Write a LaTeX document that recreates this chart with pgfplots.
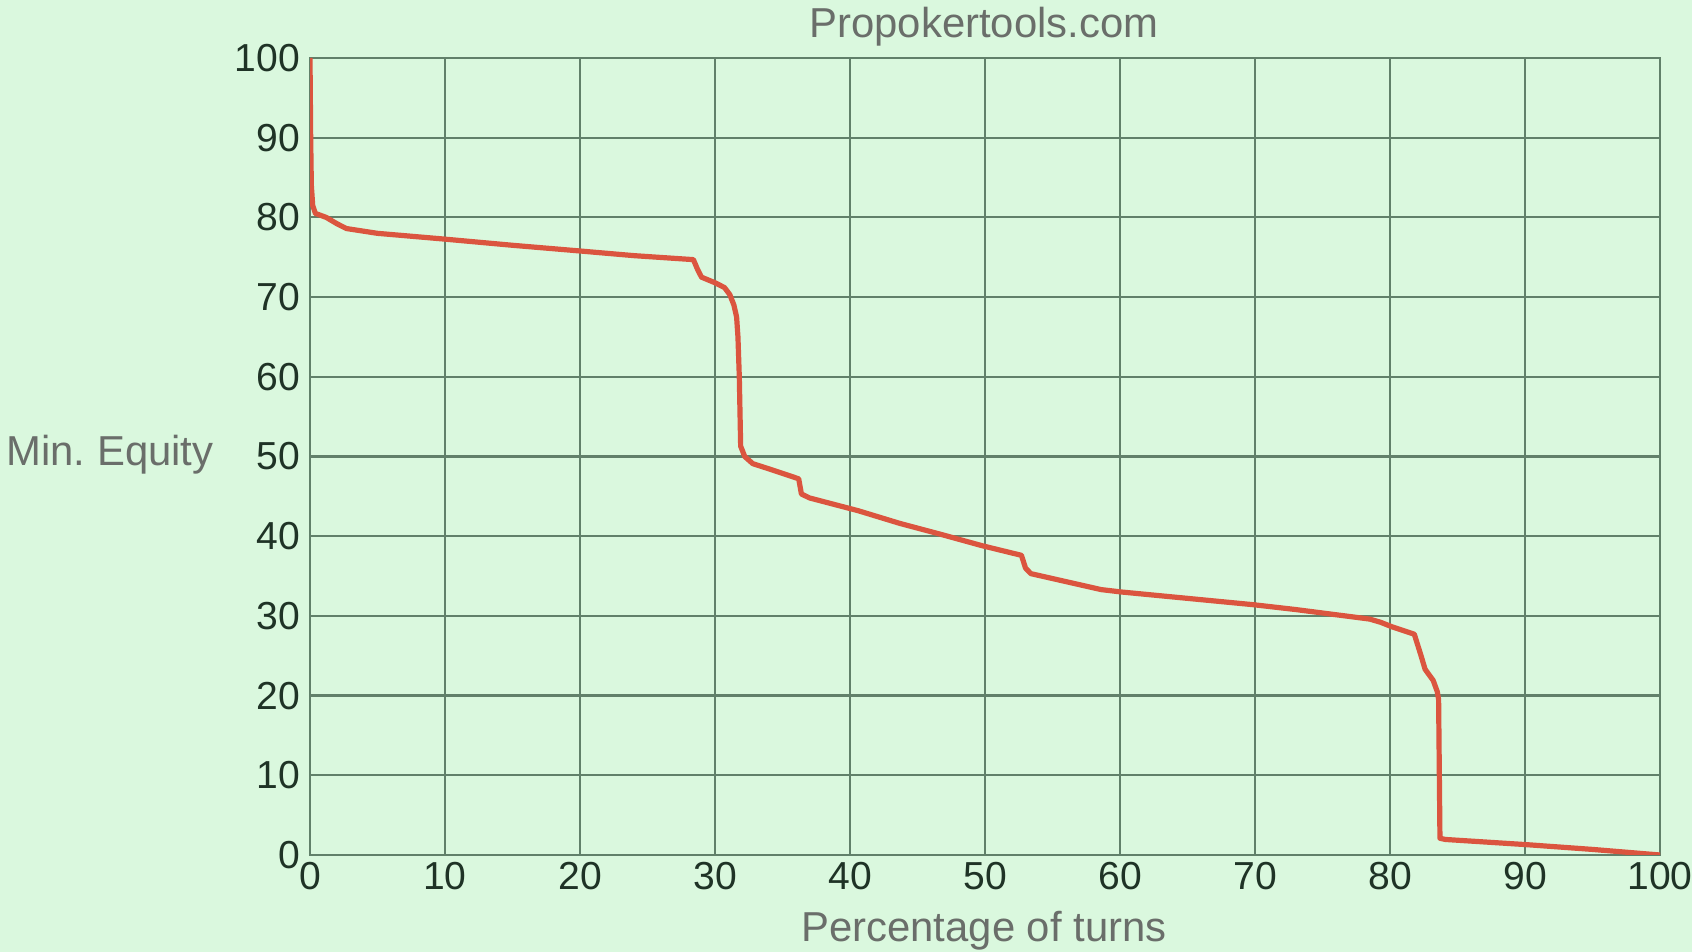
\documentclass[border=0pt]{standalone}
\usepackage{fontspec}
\setmainfont{Liberation Sans}
\usepackage{pgfplots}
\pgfplotsset{compat=1.18}

\definecolor{bg}{HTML}{DAF8DE}
\definecolor{gridc}{HTML}{61806A}
\definecolor{curve}{HTML}{DB553F}
\definecolor{ticktxt}{HTML}{1F3326}
\definecolor{labtxt}{HTML}{6A6E6A}

\begin{document}
\begin{tikzpicture}
\fill[bg] (0,0) rectangle (423bp,238bp);
\clip (0,0) rectangle (423bp,238bp);
\begin{axis}[
    at={(77.5bp,24.25bp)}, anchor=origin,
    scale only axis,
    width=337.5bp, height=199.25bp,
    xmin=0, xmax=100, ymin=0, ymax=100,
    xtick={0,10,...,100}, ytick={0,10,...,100},
    grid=major,
    major grid style={gridc, line width=0.55bp},
    axis line style={gridc, line width=0.55bp},
    major tick length=0pt,
    /pgf/number format/assume math mode=true,
    ticklabel style={font=\fontsize{9.8}{11}\selectfont, text=ticktxt},
    xticklabel style={anchor=base, yshift=-8.5bp},
    yticklabel style={anchor=east, xshift=1bp},
    axis background/.style={fill=bg},
]
\addplot[curve, line width=1.3bp, line join=round] coordinates {
    (0,100) (0.05,90) (0.1,84) (0.2,81.5) (0.4,80.5)
    (1.2,80.0) (2.0,79.2) (2.7,78.6) (5,78.0) (9.8,77.3) (15,76.5)
    (19.9,75.8) (24,75.2) (28.4,74.7) (28.7,73.5) (29.0,72.5)
    (30.0,71.8) (30.7,71.2) (31.1,70.3) (31.4,69) (31.6,67.5) (31.7,65)
    (31.8,60) (31.9,51.3) (32.2,50.0)
    (32.8,49.1) (33.9,48.5) (36.2,47.2) (36.4,45.3)
    (37.0,44.8) (40.6,43.2) (43.7,41.6) (46.8,40.2)
    (49.8,38.8) (52.7,37.6) (53.0,36.0) (53.4,35.3) (58.6,33.3)
    (60.1,33.0) (65,32.2) (69.9,31.4) (73.0,30.8)
    (78.5,29.6) (79.3,29.2) (80.2,28.6) (81.8,27.7) (82.3,25.0) (82.6,23.3)
    (83.2,21.9) (83.5,20.5) (83.6,19.5) (83.7,2.1) (84.1,1.95)
    (90.1,1.3) (95,0.7) (100,0)
};
\end{axis}
\node[text=labtxt, font=\fontsize{10.5}{12}\selectfont] at (246bp,231.3bp) {Propokertools.com};
\node[text=labtxt, font=\fontsize{10.5}{12}\selectfont] at (27.5bp,124.25bp) {Min.\ Equity};
\node[text=labtxt, font=\fontsize{10.5}{12}\selectfont, anchor=base] at (246bp,2.6bp) {Percentage of turns};
\end{tikzpicture}
\end{document}
